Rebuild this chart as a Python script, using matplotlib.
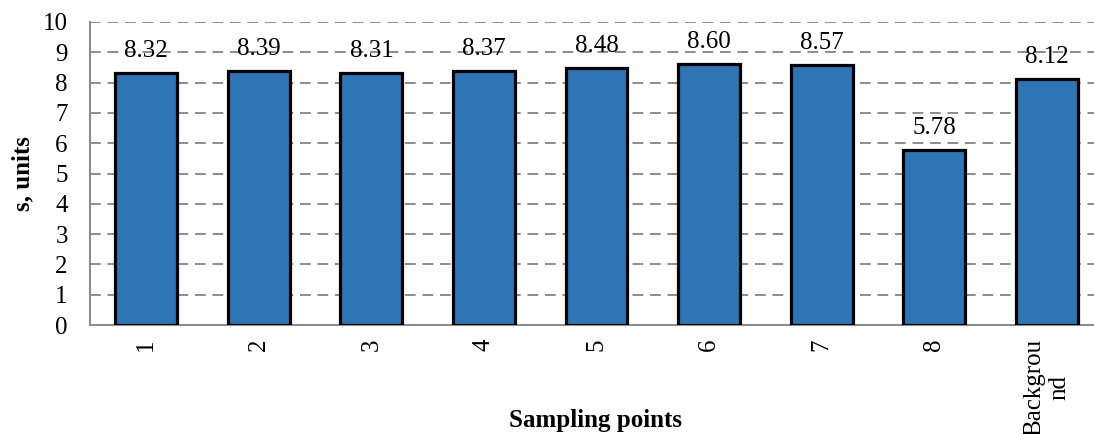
import numpy as np
import matplotlib
matplotlib.use('Agg')
from matplotlib import pyplot as plt

# sampling data
categories = ['1', '2', '3', '4', '5', '6', '7', '8', 'Backgrou\nnd']
values = [8.32, 8.39, 8.31, 8.37, 8.48, 8.60, 8.57, 5.78, 8.12]

bar_color = '#2E75B6'
grid_color = '#8C8C8C'
font_size = 18

plt.rcParams['font.family'] = ['Liberation Serif', 'DejaVu Serif']

fig = plt.figure(figsize=(10.94, 4.34), dpi=100)
fig.set_facecolor('white')
ax = fig.add_axes([90/1094., 1 - 325/434., 1013/1094., 303/434.])

x = np.arange(len(categories))
ax.set_axisbelow(True)
ax.yaxis.grid(True, linestyle=(0, (5.5, 3.5)), color=grid_color, linewidth=1.4)
bars = ax.bar(x, values, width=0.55, color=bar_color, edgecolor='black', linewidth=2.3, zorder=3)

for xi, v in zip(x, values):
	ax.annotate('%.2f' % v, (xi, v), xytext=(0, 8), textcoords='offset points',
		ha='center', va='bottom', fontsize=font_size)

ax.set_xlim(-0.5, len(categories) - 0.5)
ax.set_ylim(0, 10)
ax.set_yticks(range(0, 11))
ax.tick_params(axis='y', length=0, labelsize=font_size, pad=16)
ax.tick_params(axis='x', length=0, labelsize=font_size, pad=10)
ax.set_xticks(x)
ax.set_xticklabels(categories, rotation=90, va='top', ha='center',
	multialignment='center', linespacing=1.15)

for side in ['top', 'right']:
	ax.spines[side].set_visible(False)
for side in ['left', 'bottom']:
	ax.spines[side].set_color(grid_color)
	ax.spines[side].set_linewidth(1.5)

ax.set_ylabel('s, units', fontsize=font_size, fontweight='bold')
ax.yaxis.set_label_coords(-0.055, 0.5)
fig.text(596/1094., 7/434., 'Sampling points', fontsize=font_size, fontweight='bold',
	ha='center', va='baseline')

fig.savefig('out.png', dpi=100)
